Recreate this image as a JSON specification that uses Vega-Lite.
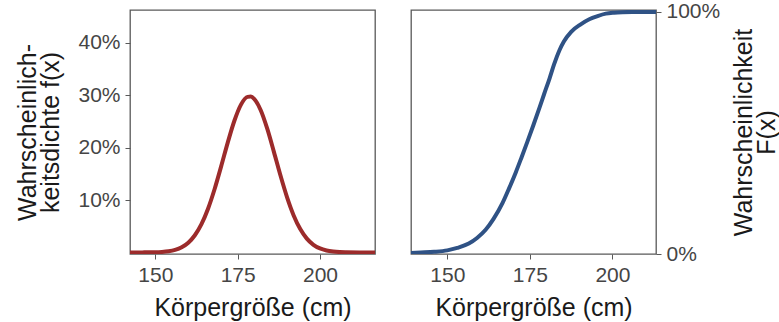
{
  "$schema": "https://vega.github.io/schema/vega-lite/v6.json",
  "autosize": {"type": "pad"},
  "padding": {"left": 15, "top": 0, "right": 5, "bottom": 0},
  "background": "white",
  "config": {
    "font": "Liberation Sans",
    "view": {"stroke": "#595959", "strokeWidth": 1.3},
    "axis": {
      "grid": false,
      "domain": false,
      "tickColor": "#595959",
      "tickSize": 5,
      "labelFontSize": 21,
      "labelColor": "#454545",
      "titleFontSize": 25,
      "titleFontWeight": "normal",
      "titleColor": "#1a1a1a",
      "labelPadding": 5
    }
  },
  "datasets": {
    "pdf": [
      {"x": 142.3, "f": 0.0}, {"x": 146, "f": 0.0001}, {"x": 150, "f": 0.0004}, {"x": 152, "f": 0.001},
      {"x": 154, "f": 0.0023}, {"x": 156, "f": 0.005}, {"x": 158, "f": 0.01}, {"x": 160, "f": 0.0186},
      {"x": 162, "f": 0.0328}, {"x": 164, "f": 0.054}, {"x": 166, "f": 0.0835}, {"x": 168, "f": 0.1211},
      {"x": 170, "f": 0.1648}, {"x": 172, "f": 0.2102}, {"x": 174, "f": 0.2515}, {"x": 176, "f": 0.2823},
      {"x": 178, "f": 0.2971}, {"x": 179, "f": 0.2976}, {"x": 180, "f": 0.2934}, {"x": 182, "f": 0.2716},
      {"x": 184, "f": 0.2359}, {"x": 186, "f": 0.1921}, {"x": 188, "f": 0.1468}, {"x": 190, "f": 0.1052},
      {"x": 192, "f": 0.0707}, {"x": 194, "f": 0.0446}, {"x": 196, "f": 0.0263}, {"x": 198, "f": 0.0146},
      {"x": 200, "f": 0.0076}, {"x": 202, "f": 0.0037}, {"x": 204, "f": 0.0017}, {"x": 206, "f": 0.0007},
      {"x": 208, "f": 0.0003}, {"x": 212, "f": 0.0}, {"x": 216.7, "f": 0.0}
    ],
    "cdf": [
      {"x": 139.0, "F": 0.004}, {"x": 142, "F": 0.006}, {"x": 146, "F": 0.009}, {"x": 150, "F": 0.015},
      {"x": 153, "F": 0.025}, {"x": 156.5, "F": 0.043}, {"x": 159, "F": 0.066}, {"x": 161.6, "F": 0.1},
      {"x": 164, "F": 0.145}, {"x": 166.7, "F": 0.21}, {"x": 168.7, "F": 0.271}, {"x": 170.7, "F": 0.336},
      {"x": 172.5, "F": 0.4}, {"x": 174.2, "F": 0.462}, {"x": 176, "F": 0.53}, {"x": 178, "F": 0.608},
      {"x": 179.3, "F": 0.66}, {"x": 181, "F": 0.727}, {"x": 182.3, "F": 0.782}, {"x": 184, "F": 0.843},
      {"x": 185.3, "F": 0.878}, {"x": 187.5, "F": 0.918}, {"x": 190.4, "F": 0.949}, {"x": 193, "F": 0.97},
      {"x": 195.5, "F": 0.983}, {"x": 198, "F": 0.993}, {"x": 200.5, "F": 0.997}, {"x": 203, "F": 0.999},
      {"x": 206, "F": 1.0}, {"x": 213.2, "F": 1.0}
    ]
  },
  "spacing": 34,
  "hconcat": [
    {
      "width": 245,
      "height": 244,
      "data": {"name": "pdf"},
      "mark": {"type": "line", "color": "#9c2b2b", "strokeWidth": 4, "interpolate": "monotone", "clip": true},
      "encoding": {
        "x": {
          "field": "x", "type": "quantitative",
          "scale": {"domain": [142.3, 216.7], "nice": false, "zero": false},
          "axis": {"values": [150, 175, 200], "title": "Körpergröße (cm)", "titlePadding": 10}
        },
        "y": {
          "field": "f", "type": "quantitative",
          "scale": {"domain": [-0.003, 0.463], "nice": false, "zero": false},
          "axis": {"values": [0.1, 0.2, 0.3, 0.4], "format": ".0%", "title": ["Wahrscheinlich-", "keitsdichte f(x)"], "titleLineHeight": 23, "titlePadding": 14}
        }
      }
    },
    {
      "width": 245,
      "height": 244,
      "data": {"name": "cdf"},
      "mark": {"type": "line", "color": "#2f5285", "strokeWidth": 4, "interpolate": "monotone", "clip": true},
      "encoding": {
        "x": {
          "field": "x", "type": "quantitative",
          "scale": {"domain": [139.0, 213.2], "nice": false, "zero": false},
          "axis": {"values": [150, 175, 200], "title": "Körpergröße (cm)", "titlePadding": 10}
        },
        "y": {
          "field": "F", "type": "quantitative",
          "scale": {"domain": [0, 1.008], "nice": false},
          "axis": {"orient": "right", "values": [0, 1], "format": ".0%", "title": ["Wahrscheinlichkeit", "F(x)"], "titleAngle": -90, "titleLineHeight": 23, "titlePadding": 14}
        }
      }
    }
  ]
}
